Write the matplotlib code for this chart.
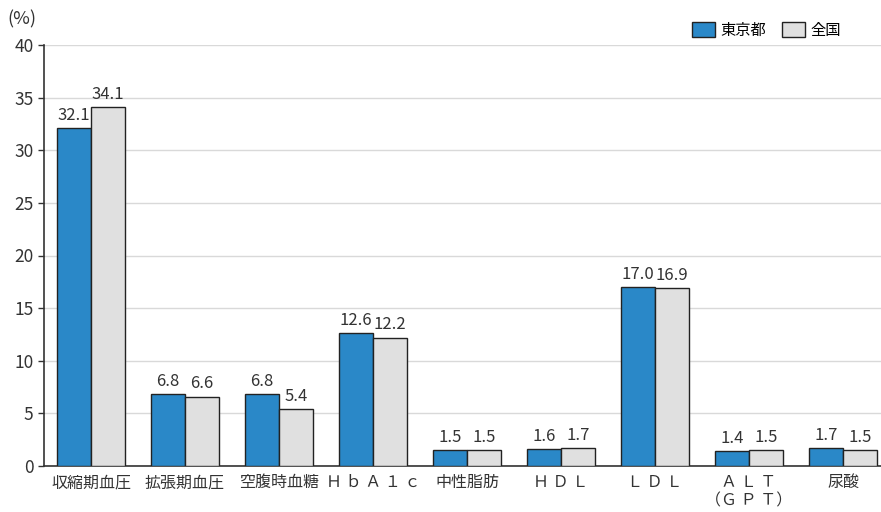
import matplotlib
matplotlib.use("Agg")
import matplotlib.pyplot as plt
import numpy as np
from matplotlib.patches import Patch

plt.rcParams['font.family'] = ['Noto Sans CJK JP', 'DejaVu Sans']

categories = ["収縮期血圧", "拡張期血圧", "空腹時血糖", "Ｈ ｂ Ａ １ ｃ", "中性脂肪",
              "Ｈ Ｄ Ｌ", "Ｌ Ｄ Ｌ", "Ａ Ｌ Ｔ\n（Ｇ Ｐ Ｔ）", "尿酸"]
tokyo = [32.1, 6.8, 6.8, 12.6, 1.5, 1.6, 17.0, 1.4, 1.7]
zenkoku = [34.1, 6.6, 5.4, 12.2, 1.5, 1.7, 16.9, 1.5, 1.5]
series_names = ["東京都", "全国"]

blue = "#2a88c8"
gray = "#e0e0e0"
txt = "#333333"

fig = plt.figure(figsize=(8.81, 5.12), dpi=100)
ax = fig.add_axes([44/881, 46/512, 846/881, 421/512])
x = np.arange(len(categories))
w = 0.362
b1 = ax.bar(x - w/2, tokyo, w, color=blue, edgecolor="#222222", linewidth=1.0, zorder=3)
b2 = ax.bar(x + w/2, zenkoku, w, color=gray, edgecolor="#222222", linewidth=1.0, zorder=3)
for bars, vals in ((b1, tokyo), (b2, zenkoku)):
    for rect, v in zip(bars, vals):
        ax.text(rect.get_x() + rect.get_width()/2, v + 0.4, f"{v:.1f}", ha="center", va="bottom",
                fontsize=12, color=txt)

ax.set_xlim(-0.5, 8.5)
ax.set_ylim(0, 40)
ax.set_yticks(range(0, 41, 5))
ax.set_xticks(x)
ax.set_xticklabels(categories, fontsize=11.5, color=txt, linespacing=1.1)
ax.tick_params(axis="x", length=0, pad=6)
ax.tick_params(axis="y", labelsize=12.5, labelcolor=txt, length=4, width=1, color=txt)
ax.yaxis.grid(True, color="#d9d9d9", linewidth=1, zorder=0)
ax.set_axisbelow(True)
for s in ["top", "right"]:
    ax.spines[s].set_visible(False)
for s in ["left", "bottom"]:
    ax.spines[s].set_color(txt)
    ax.spines[s].set_linewidth(1.2)

fig.text(7/881, 1 - 19/512, "(%)", fontsize=13, color=txt, va="center", ha="left")

handles = [Patch(facecolor=blue, edgecolor="#222222"), Patch(facecolor=gray, edgecolor="#222222")]
fig.legend(handles, series_names, loc="upper right", bbox_to_anchor=(855/881, 1 - 8/512), ncol=2,
           frameon=False, fontsize=11, handlelength=1.5, handleheight=1.2, columnspacing=1.0, handletextpad=0.4)

fig.savefig("out.png", dpi=100)
